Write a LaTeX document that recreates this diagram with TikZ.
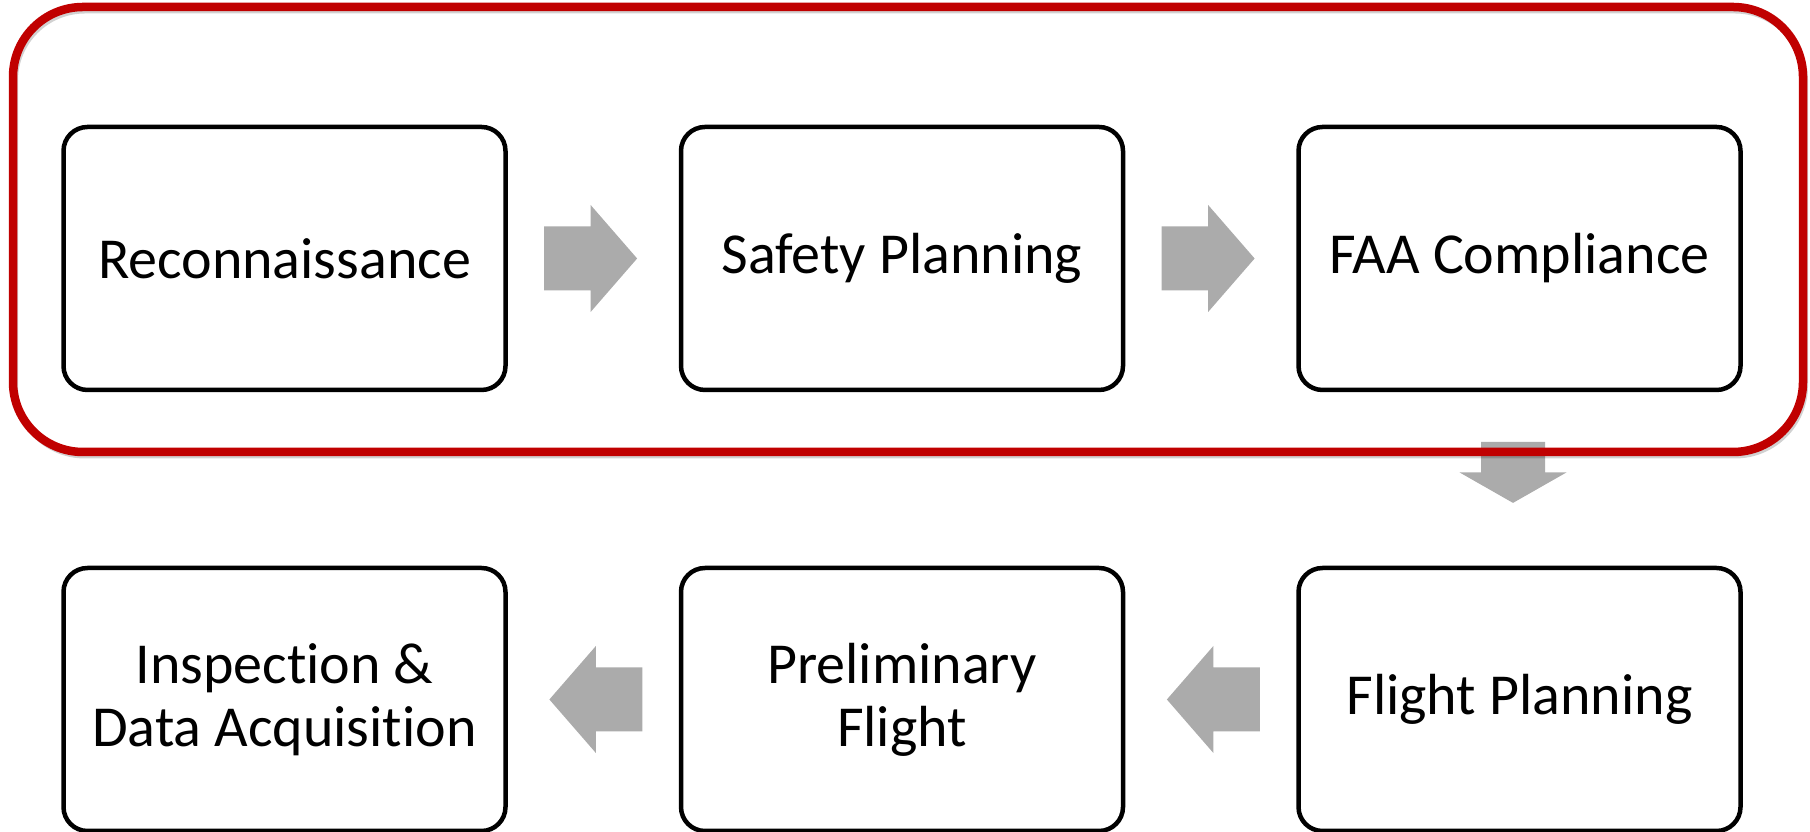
\documentclass[tikz,border=0pt]{standalone}
\usepackage{fontspec}
\setmainfont[Ligatures=NoCommon]{Carlito}
\usetikzlibrary{positioning, calc}
\definecolor{frameRed} {HTML}{C00000}
\definecolor{arrowGray}{HTML}{ABABAB}

\begin{document}
\begin{tikzpicture}[
    node distance=3.56cm and 3.51cm,
    every node/.style={font=\fontsize{33}{36}\selectfont},
    box/.style={
        draw=black, rounded corners=0.48cm,
        minimum width=8.84cm, minimum height=5.26cm,
        align=center, line width=0.09cm, outer sep=0pt
    },
    flow/.style={pos=0.485, sloped, allow upside down},
    redframe/.style={draw=frameRed, line width=0.17cm, rounded corners=1.4cm},
    frameshadow/.style={draw=black, opacity=0.18, line width=0.12cm, rounded corners=1.4cm},
    pics/flowarrow/.style={code={
        \fill[arrowGray] (-#1,0.64) -- (0,0.64) -- (0,1.07) -- (#1,0)
            -- (0,-1.07) -- (0,-0.64) -- (-#1,-0.64) -- cycle;
    }}
]

\useasboundingbox (0,0) rectangle (36.2,16.64);

% ── TOP ROW ────────────────────────────────────────────────────
\node[box] (recon) at (5.69,11.47) {Reconnaissance};
\node[box, right=of recon]  (safety) {Safety Planning};
\node[box, right=of safety] (faa)    {FAA Compliance};

% ── BOTTOM ROW ─────────────────────────────────────────────────
\node[box, below=of faa]    (flight)  {Flight Planning};
\node[box, left=of flight]  (prelim)  {Preliminary \\ Flight};
\node[box, left=of prelim]  (inspect) {Inspection \& \\ Data Acquisition};

% ── BLOCK ARROWS ───────────────────────────────────────────────
\path (recon)  -- (safety) pic[flow]{flowarrow=0.93};
\path (safety) -- (faa)    pic[flow]{flowarrow=0.93};
\path ([xshift=-0.13cm]faa.south) -- ([xshift=-0.13cm]flight.north)
    pic[flow, pos=0.463]{flowarrow=0.61};
\path (flight) -- (prelim)  pic[flow]{flowarrow=0.93};
\path (prelim) -- (inspect) pic[flow]{flowarrow=0.93};

% ── RED FRAME round the first three steps ──────────────────────
\draw[frameshadow]
    ([shift={(-0.97cm,2.33cm)}]recon.north west) rectangle
    ([shift={(1.29cm,-1.31cm)}]faa.south east);
\draw[redframe]
    ([shift={(-1.01cm,2.4cm)}]recon.north west) rectangle
    ([shift={(1.25cm,-1.24cm)}]faa.south east);

\end{tikzpicture}
\end{document}
